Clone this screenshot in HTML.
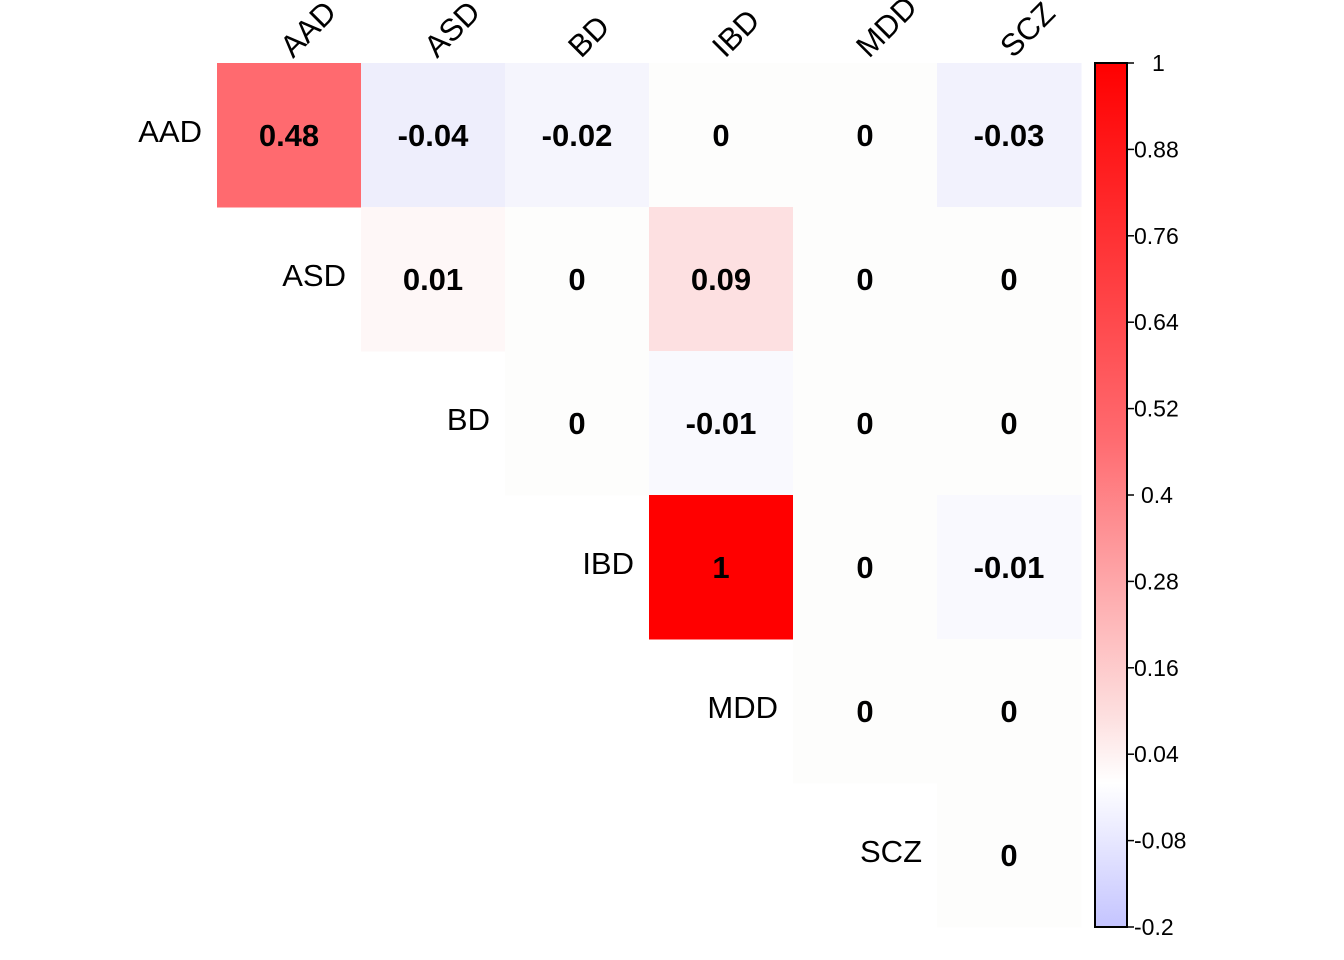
<!DOCTYPE html>
<html><head><meta charset="utf-8"><style>
body{margin:0;background:#fff;}
svg{display:block;font-family:"Liberation Sans",Arial,sans-serif;}
</style></head><body>
<svg id="chart" width="1344" height="960">
<defs><linearGradient id="cbg" x1="0" y1="1" x2="0" y2="0">
<stop offset="0" stop-color="#C4C4FF"/><stop offset="0.1667" stop-color="#FFFFFF"/>
<stop offset="0.2417" stop-color="#FDE0E0"/><stop offset="0.5667" stop-color="#FF6A6F"/><stop offset="1" stop-color="#FF0000"/>
</linearGradient></defs>
</svg>
<script>
const labels=["AAD","ASD","BD","IBD","MDD","SCZ"];
const row0=[0.48,-0.04,-0.02,0,0,-0.03];
const row1=[0.01,0,0.09,0,0];
const row2=[0,-0.01,0,0];
const row3=[1,0,-0.01];
const row4=[0,0];
const row5=[0];
const rows=[row0,row1,row2,row3,row4,row5];
const cbTicks=[1,0.88,0.76,0.64,0.52,0.4,0.28,0.16,0.04,-0.08,-0.2];
const NS="http://www.w3.org/2000/svg";
const svg=document.getElementById('chart');
const X0=217,Y0=63,C=144;
const cx=i=>X0+i*C, cy=i=>Y0+i*C;
const vmin=-0.2,vmax=1,CBT=63,CBB=927;
const cbY=v=>CBT+(vmax-v)/(vmax-vmin)*(CBB-CBT);
function hex(c){return c.map(x=>Math.round(x).toString(16).padStart(2,'0')).join('');}
const stops=[[-0.2,[196,196,255]],[-0.04,[238,238,252]],[-0.02,[245,245,253]],[-0.01,[249,249,254]],[0,[253,253,252]],[0.01,[254,247,247]],[0.09,[253,224,225]],[0.48,[255,106,111]],[1,[255,0,0]]];
function color(v){for(let k=0;k<stops.length-1;k++){const [a,ca]=stops[k],[b,cb]=stops[k+1];if(v<=b){const t=(v-a)/(b-a);return '#'+hex(ca.map((x,j)=>x+(cb[j]-x)*t));}}return '#ff0000';}
function mk(tag,attrs,parent){const e=document.createElementNS(NS,tag);for(const k in attrs)e.setAttribute(k,attrs[k]);(parent||svg).appendChild(e);return e;}
rows.forEach((r,i)=>{
  r.forEach((v,k)=>{
    const j=i+k;
    const rect=mk('rect',{x:cx(j),y:cy(i),width:C+0.5,height:C+0.5,fill:color(v)});
    
    
    const t=mk('text',{x:cx(j)+C/2,y:cy(i)+C/2+11,'text-anchor':'middle','font-size':31,'font-weight':'bold',fill:'#000'});
    t.textContent=String(v);
    
    
  });
  const rl=mk('text',{x:cx(i)-15,y:cy(i)+C/2+7,'text-anchor':'end','font-size':31,fill:'#000'});
  rl.textContent=labels[i];
  
  
});
labels.forEach((l,j)=>{
  const x=cx(j)+C/2+4,y=59;
  const t=mk('text',{x:x,y:y,'font-size':31,fill:'#000',transform:`rotate(-45 ${x} ${y})`});
  t.textContent=l;
  
  
});
const cb=mk('rect',{x:1095,y:CBT,width:32,height:CBB-CBT,fill:'url(#cbg)',stroke:'#000','stroke-width':2});


cbTicks.forEach(v=>{
  const y=cbY(v);
  const tk=mk('line',{x1:1127,x2:1134,y1:y,y2:y,stroke:'#000','stroke-width':1.5});
  
  
  const t=mk('text',{x:v===1?1152:(v===0.4?1141:1134),y:y+8,'font-size':23,fill:'#000'});
  t.textContent=String(v);
  
  
});
</script>
</body></html>
